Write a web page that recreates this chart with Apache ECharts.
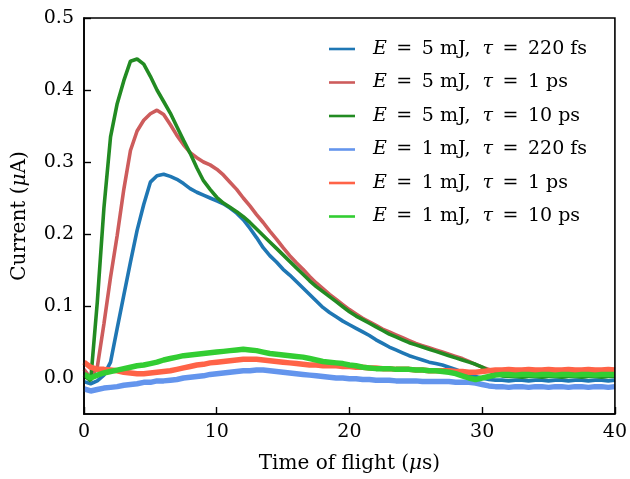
<!DOCTYPE html>
<html>
<head>
<meta charset="utf-8">
<script src="https://cdn.jsdelivr.net/npm/echarts@6.0.0/dist/echarts.min.js"></script>
<style>
html,body{margin:0;padding:0;background:#fff;}
#chart{width:630px;height:479px;}
</style>
</head>
<body>
<div id="chart"></div>
<script>
// Time of flight (µs)
const times = [
  0,0.5,1,1.5,2,2.5,3,3.5,4,4.5,
  5,5.5,6,6.5,7,7.5,8,8.5,9,9.5,
  10,10.5,11,11.5,12,12.5,13,13.5,14,14.5,
  15,15.5,16,16.5,17,17.5,18,18.5,19,19.5,
  20,20.5,21,21.5,22,22.5,23,23.5,24,24.5,
  25,25.5,26,26.5,27,27.5,28,28.5,29,29.5,
  30,30.5,31,31.5,32,32.5,33,33.5,34,34.5,
  35,35.5,36,36.5,37,37.5,38,38.5,39,39.5,
  40
];
// E = 5 mJ, tau = 220 fs
const e5_220fs = [
  -0.005,-0.008,-0.004,0.004,0.022,0.069,0.115,0.161,0.205,0.241,
  0.272,0.281,0.283,0.280,0.276,0.270,0.263,0.258,0.254,0.250,
  0.246,0.242,0.236,0.229,0.220,0.208,0.195,0.181,0.170,0.161,
  0.151,0.143,0.134,0.125,0.116,0.107,0.098,0.091,0.085,0.079,
  0.074,0.069,0.064,0.059,0.053,0.048,0.043,0.039,0.035,0.031,
  0.028,0.025,0.022,0.020,0.018,0.015,0.012,0.008,0.005,0.002,
  0.000,-0.002,-0.003,-0.003,-0.004,-0.003,-0.003,-0.004,-0.003,-0.003,
  -0.004,-0.003,-0.003,-0.004,-0.003,-0.003,-0.004,-0.003,-0.003,-0.004,
  -0.003
];
// E = 5 mJ, tau = 1 ps
const e5_1ps = [
  0.012,0.000,0.015,0.075,0.140,0.198,0.262,0.316,0.343,0.358,
  0.367,0.372,0.366,0.352,0.337,0.324,0.313,0.306,0.300,0.296,
  0.290,0.282,0.272,0.262,0.250,0.239,0.227,0.216,0.204,0.193,
  0.181,0.170,0.160,0.151,0.141,0.132,0.124,0.116,0.109,0.102,
  0.095,0.089,0.083,0.078,0.073,0.068,0.064,0.060,0.056,0.052,
  0.048,0.045,0.042,0.039,0.036,0.033,0.030,0.027,0.023,0.019,
  0.015,0.012,0.009,0.009,0.008,0.009,0.010,0.009,0.008,0.009,
  0.009,0.010,0.009,0.008,0.009,0.010,0.009,0.009,0.008,0.009,
  0.009
];
// E = 5 mJ, tau = 10 ps
const e5_10ps = [
  0.004,-0.004,0.105,0.236,0.335,0.381,0.413,0.440,0.443,0.436,
  0.419,0.400,0.384,0.368,0.349,0.330,0.312,0.292,0.274,0.262,
  0.251,0.243,0.237,0.231,0.224,0.216,0.207,0.198,0.189,0.180,
  0.171,0.162,0.153,0.144,0.135,0.127,0.120,0.113,0.106,0.099,
  0.092,0.086,0.081,0.076,0.071,0.066,0.061,0.057,0.053,0.049,
  0.046,0.043,0.040,0.037,0.034,0.031,0.028,0.025,0.022,0.019,
  0.015,0.010,0.006,0.003,0.002,0.002,0.001,0.002,0.002,0.001,
  0.002,0.002,0.001,0.002,0.002,0.001,0.002,0.002,0.001,0.002,
  0.002
];
// E = 1 mJ, tau = 220 fs
const e1_220fs = [
  -0.015,-0.018,-0.016,-0.014,-0.013,-0.012,-0.010,-0.009,-0.008,-0.006,
  -0.006,-0.004,-0.004,-0.003,-0.002,0.000,0.001,0.002,0.003,0.005,
  0.006,0.007,0.008,0.009,0.010,0.010,0.011,0.011,0.010,0.009,
  0.008,0.007,0.006,0.005,0.004,0.003,0.002,0.001,0.000,0.000,
  -0.001,-0.001,-0.002,-0.002,-0.003,-0.003,-0.003,-0.004,-0.004,-0.004,
  -0.004,-0.005,-0.005,-0.005,-0.005,-0.005,-0.006,-0.006,-0.006,-0.007,
  -0.009,-0.011,-0.012,-0.012,-0.013,-0.012,-0.012,-0.013,-0.012,-0.012,
  -0.013,-0.012,-0.012,-0.013,-0.012,-0.012,-0.013,-0.012,-0.012,-0.013,
  -0.012
];
// E = 1 mJ, tau = 1 ps
const e1_1ps = [
  0.022,0.015,0.012,0.012,0.011,0.010,0.008,0.007,0.006,0.006,
  0.007,0.008,0.009,0.010,0.012,0.014,0.016,0.018,0.019,0.021,
  0.022,0.023,0.024,0.025,0.026,0.026,0.026,0.025,0.024,0.023,
  0.022,0.021,0.020,0.019,0.018,0.018,0.017,0.017,0.017,0.016,
  0.016,0.015,0.015,0.014,0.014,0.013,0.013,0.012,0.012,0.012,
  0.011,0.011,0.010,0.010,0.010,0.010,0.009,0.009,0.008,0.008,
  0.009,0.010,0.011,0.011,0.012,0.011,0.011,0.012,0.011,0.011,
  0.012,0.011,0.011,0.012,0.011,0.011,0.012,0.011,0.011,0.012,
  0.011
];
// E = 1 mJ, tau = 10 ps
const e1_10ps = [
  0.005,0.000,0.004,0.007,0.009,0.011,0.013,0.015,0.017,0.018,
  0.020,0.022,0.025,0.027,0.029,0.031,0.032,0.033,0.034,0.035,
  0.036,0.037,0.038,0.039,0.040,0.039,0.038,0.036,0.034,0.033,
  0.032,0.031,0.030,0.029,0.027,0.025,0.023,0.022,0.021,0.020,
  0.018,0.017,0.015,0.014,0.013,0.013,0.013,0.012,0.012,0.012,
  0.011,0.011,0.010,0.010,0.009,0.008,0.006,0.003,0.000,-0.002,
  0.000,0.002,0.004,0.005,0.005,0.004,0.005,0.005,0.004,0.005,
  0.005,0.004,0.005,0.005,0.004,0.005,0.005,0.004,0.005,0.005,
  0.005
];
const seriesNames = [
  'E = 5 mJ, τ = 220 fs',
  'E = 5 mJ, τ = 1 ps',
  'E = 5 mJ, τ = 10 ps',
  'E = 1 mJ, τ = 220 fs',
  'E = 1 mJ, τ = 1 ps',
  'E = 1 mJ, τ = 10 ps'
];
const seriesValues = [e5_220fs, e5_1ps, e5_10ps, e1_220fs, e1_1ps, e1_10ps];
const seriesColors = ['#1f77b4', '#cd5c5c', '#228b22', '#6495ed', '#ff6347', '#32cd32'];
const seriesWidths = [3.6, 3.6, 3.6, 5.5, 5.5, 5.5];
const xTicks = [0, 10, 20, 30, 40];
const yTicks = [0, 0.1, 0.2, 0.3, 0.4, 0.5];

const FONT = 'DejaVu Serif';
const chart = echarts.init(document.getElementById('chart'), null, {renderer: 'canvas'});

const series = seriesNames.map((name, k) => ({
  name: name,
  type: 'line',
  symbol: 'none',
  animation: false,
  data: times.map((t, i) => [t, seriesValues[k][i]]),
  lineStyle: {color: seriesColors[k], width: seriesWidths[k]},
  itemStyle: {color: seriesColors[k]},
  z: 2 + k
}));

const EN = '\u2002';
function fmtLegend(name) {
  const parts = name.split(', ');
  const a = parts[0].replace('E = ', '{i|E}' + EN + '=' + EN);
  const b = parts[1].replace('τ = ', '{i|τ}' + EN + '=' + EN);
  return a + ',  ' + b;
}

const option = {
  backgroundColor: '#ffffff',
  animation: false,
  grid: {left: 84, right: 13, top: 18, bottom: 63, containLabel: false},
  legend: {
    show: true,
    orient: 'vertical',
    left: 324,
    top: 33,
    itemWidth: 26,
    itemHeight: 2.6,
    itemGap: 11.5,
    icon: 'rect',
    data: seriesNames,
    formatter: fmtLegend,
    textStyle: {
      fontFamily: FONT, fontSize: 19, color: '#000', lineHeight: 22,
      padding: [0, 0, 0, 13],
      rich: {
        i: {fontFamily: FONT, fontSize: 19, fontStyle: 'italic', color: '#000'}
      }
    }
  },
  xAxis: {
    type: 'value',
    min: 0, max: 40, interval: 10,
    name: 'Time of flight ({i|μ}s)',
    nameLocation: 'middle',
    nameGap: 40,
    nameTextStyle: {
      fontFamily: FONT, fontSize: 20, color: '#000',
      rich: {i: {fontFamily: FONT, fontSize: 20, fontStyle: 'italic', color: '#000'}}
    },
    axisLine: {show: true, onZero: false, lineStyle: {color: '#000', width: 1.6}},
    axisTick: {show: true, inside: true, length: 7, lineStyle: {color: '#000', width: 1.4}, customValues: xTicks},
    axisLabel: {fontFamily: FONT, fontSize: 19, color: '#000', margin: 9, customValues: xTicks},
    splitLine: {show: false}
  },
  yAxis: {
    type: 'value',
    min: -0.05, max: 0.5,
    name: 'Current ({i|μ}A)',
    nameLocation: 'middle',
    nameGap: 54,
    nameTextStyle: {
      fontFamily: FONT, fontSize: 20, color: '#000',
      rich: {i: {fontFamily: FONT, fontSize: 20, fontStyle: 'italic', color: '#000'}}
    },
    axisLine: {show: true, onZero: false, lineStyle: {color: '#000', width: 1.6}},
    axisTick: {show: true, inside: true, length: 7, lineStyle: {color: '#000', width: 1.4}, customValues: yTicks},
    axisLabel: {
      fontFamily: FONT, fontSize: 19, color: '#000', margin: 10,
      customValues: yTicks,
      formatter: v => v.toFixed(1)
    },
    splitLine: {show: false}
  },
  series: series
};
chart.setOption(option);

// top and right spines: rectangle on the grid area
const rect = chart.getModel().getComponent('grid').coordinateSystem.getRect();
chart.setOption({
  graphic: [{
    type: 'rect',
    shape: {x: rect.x, y: rect.y, width: rect.width, height: rect.height},
    style: {fill: 'none', stroke: '#000', lineWidth: 1.6},
    z: 100, silent: true
  }]
});
</script>
</body>
</html>
